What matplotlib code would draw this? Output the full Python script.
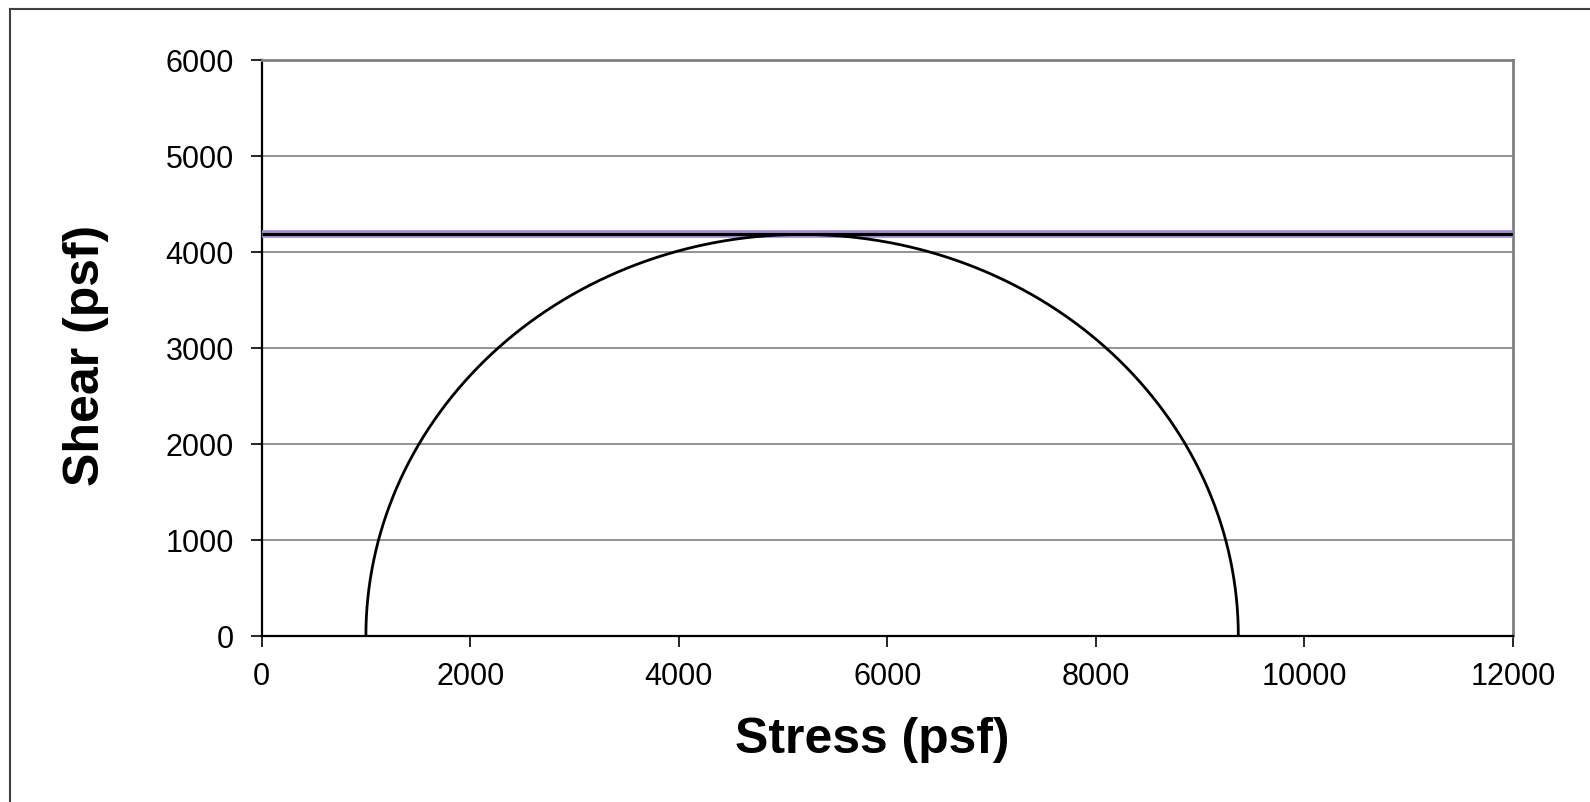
import numpy as np
import matplotlib
matplotlib.use("Agg")
import matplotlib.pyplot as plt
from matplotlib.lines import Line2D

plt.rcParams["font.family"] = ["Liberation Sans", "DejaVu Sans"]

# Mohr circle principal stresses (psf)
sigma_3 = 1000.0
sigma_1 = 9366.0

# failure envelope (horizontal, undrained)
env_x = [0, 12000]
env_y = [4183, 4183]

x_ticks = [0, 2000, 4000, 6000, 8000, 10000, 12000]
y_ticks = [0, 1000, 2000, 3000, 4000, 5000, 6000]

center = 0.5 * (sigma_1 + sigma_3)
radius = 0.5 * (sigma_1 - sigma_3)
theta = np.linspace(0, np.pi, 400)
circ_x = center + radius * np.cos(theta)
circ_y = radius * np.sin(theta)

fig = plt.figure(figsize=(15.9, 8.02), dpi=100)
ax = fig.add_axes([261.6 / 1590, 1 - 636 / 802, (1513 - 261.6) / 1590, (636 - 60) / 802])

ax.set_xlim(0, 12000)
ax.set_ylim(0, 6000)
ax.set_xticks(x_ticks)
ax.set_yticks(y_ticks)
ax.yaxis.grid(True, color="#808080", lw=1.2)
ax.set_axisbelow(True)

ax.plot(env_x, env_y, color="#a08ccc", lw=5.5, solid_capstyle="butt", zorder=3)
ax.plot(env_x, env_y, color="black", lw=2.2, solid_capstyle="butt", zorder=4)
ax.plot(circ_x, circ_y, color="black", lw=2.0, zorder=5)

for side in ["top", "right"]:
    ax.spines[side].set_color("#808080")
    ax.spines[side].set_linewidth(2)
for side in ["left", "bottom"]:
    ax.spines[side].set_color("black")
    ax.spines[side].set_linewidth(1.6)

ax.tick_params(axis="both", direction="out", length=8, width=1.2, color="black",
               labelsize=22)
ax.tick_params(axis="y", pad=12)
ax.tick_params(axis="x", pad=11)

ax.set_xlabel("Stress (psf)", fontsize=36, fontweight="bold")
ax.set_ylabel("Shear (psf)", fontsize=36, fontweight="bold")
ax.xaxis.set_label_coords((872 - 261.6) / (1513 - 261.6), -(717 - 636) / 576)
ax.yaxis.set_label_coords(-(261.6 - 109) / (1513 - 261.6), (636 - 355) / 576)

# chart area border
fig.add_artist(Line2D([9.5 / 1590, 9.5 / 1590], [0, 1 - 8.5 / 802],
                      transform=fig.transFigure, color="#404040", lw=1.5))
fig.add_artist(Line2D([9.5 / 1590, 1], [1 - 8.5 / 802, 1 - 8.5 / 802],
                      transform=fig.transFigure, color="#404040", lw=1.5))

fig.savefig("out.png", dpi=100)
